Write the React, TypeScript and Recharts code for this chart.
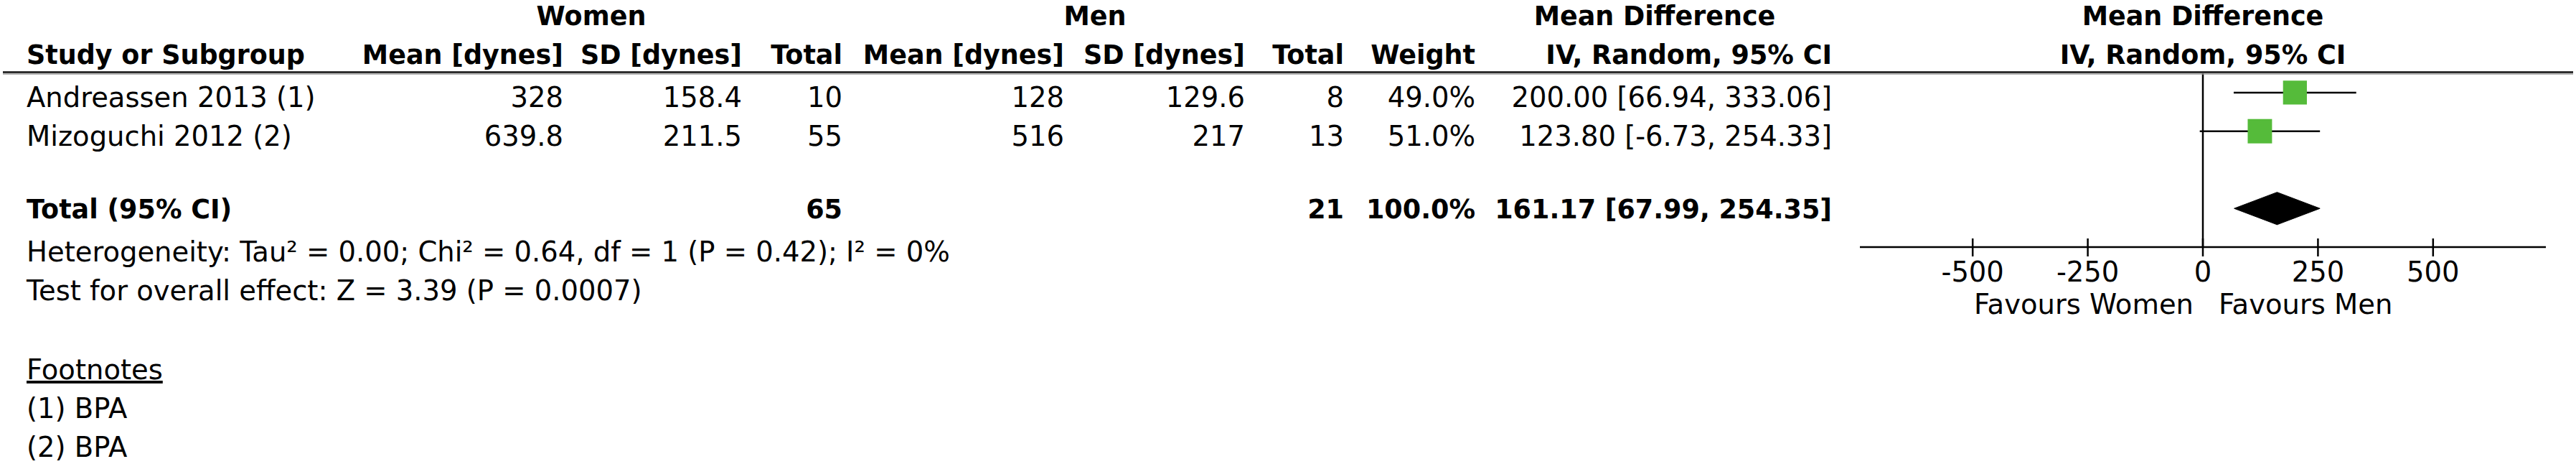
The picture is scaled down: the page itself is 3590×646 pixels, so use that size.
import React from "react";
import { Area, ComposedChart, ErrorBar, ReferenceLine, Scatter, XAxis, YAxis } from "recharts";

const studies = ["Andreassen 2013 (1)", "Mizoguchi 2012 (2)"];
const womenMean = [328, 639.8];
const womenSD = [158.4, 211.5];
const womenN = [10, 55];
const menMean = [128, 516];
const menSD = [129.6, 217];
const menN = [8, 13];
const weights = [49.0, 51.0];
const meanDiff = [200.0, 123.8];
const ciLow = [66.94, -6.73];
const ciHigh = [333.06, 254.33];

const totalWomen = 65;
const totalMen = 21;
const totalWeight = 100.0;
const pooledMD = 161.17;
const pooledLow = 67.99;
const pooledHigh = 254.35;

const axisTicks = [-500, -250, 0, 250, 500];
const studyRows = [1, 2];
const totalRow = 4;

const heterogeneity = "Heterogeneity: Tau\u00b2 = 0.00; Chi\u00b2 = 0.64, df = 1 (P = 0.42); I\u00b2 = 0%";
const overallEffect = "Test for overall effect: Z = 3.39 (P = 0.0007)";
const footnotes = ["(1) BPA", "(2) BPA"];

const W = 3590;
const H = 646;
const FONT = "DejaVu Sans";
const FS = 38.5;
const FSB = 36.5;
const GREEN = "#55bb3a";
const DIAMOND_HALF = 0.42; // in row units

const points = studies.map((name, i) => ({
  name,
  x: meanDiff[i],
  y: studyRows[i],
  weight: weights[i],
  err: [meanDiff[i] - ciLow[i], ciHigh[i] - meanDiff[i]],
}));

const diamond = [
  { x: pooledLow, band: [totalRow, totalRow] },
  { x: pooledMD, band: [totalRow - DIAMOND_HALF, totalRow + DIAMOND_HALF] },
  { x: pooledHigh, band: [totalRow, totalRow] },
];

const Square = (props: any) => {
  const { cx, cy, payload } = props;
  const side = 4.75 * Math.sqrt(payload.weight);
  return <rect x={cx - side / 2} y={cy - side / 2} width={side} height={side} fill={GREEN} />;
};

const AxisTick = (props: any) => {
  const { x, y, payload } = props;
  return (
    <g>
      <line x1={x} x2={x} y1={y - 12} y2={y + 13} stroke="#000" strokeWidth={2.5} />
      <text x={x} y={y + 48} textAnchor="middle" fontFamily={FONT} fontSize={FS} fill="#000">
        {payload.value}
      </text>
    </g>
  );
};

// right edges of the table columns
const colEnds = [785, 1034, 1174, 1483, 1735, 1873, 2056, 2553];
const rowBase = [149, 203];

const T = (p: any) => (
  <text fontFamily={FONT} fontSize={p.bold ? FSB : FS} fontWeight={p.bold ? "bold" : "normal"} fill="#000" {...p} bold={undefined}>
    {p.children}
  </text>
);

const App = () => {
  const headers2 = ["Mean [dynes]", "SD [dynes]", "Total", "Mean [dynes]", "SD [dynes]", "Total", "Weight", "IV, Random, 95% CI"];
  return (
    <div style={{ position: "absolute", left: 0, top: 0, width: W, height: H, background: "#fff" }}>
      <ComposedChart width={W} height={H} margin={{ top: 102, right: 42, bottom: 242, left: 2592 }}>
        <XAxis
          type="number"
          dataKey="x"
          domain={[-745, 745]}
          ticks={axisTicks}
          allowDataOverflow
          interval={0}
          height={60}
          tickSize={0}
          tickMargin={0}
          tickLine={false}
          axisLine={{ stroke: "#000", strokeWidth: 2.5 }}
          tick={(p: any) => <AxisTick {...p} />}
        />
        <YAxis type="number" dataKey="y" domain={[0.5, 5]} reversed hide />
        <ReferenceLine x={0} stroke="#000" strokeWidth={2.5} />
        <Area data={diamond} dataKey="band" type="linear" fill="#000" fillOpacity={1} stroke="#000" strokeWidth={1} isAnimationActive={false} />
        <Scatter data={points} shape={(p: any) => <Square {...p} />} isAnimationActive={false}>
          <ErrorBar dataKey="err" direction="x" width={0} stroke="#000" strokeWidth={2.5} />
        </Scatter>
      </ComposedChart>
      <svg width={W} height={H} style={{ position: "absolute", left: 0, top: 0, pointerEvents: "none" }}>
        <T bold x={824} y={35} textAnchor="middle">Women</T>
        <T bold x={1526} y={35} textAnchor="middle">Men</T>
        <T bold x={2306} y={35} textAnchor="middle">Mean Difference</T>
        <T bold x={3070} y={35} textAnchor="middle">Mean Difference</T>
        <T bold x={37} y={89}>Study or Subgroup</T>
        {headers2.map((h, i) => (
          <T key={i} bold x={colEnds[i]} y={89} textAnchor="end">{h}</T>
        ))}
        <T bold x={3070} y={89} textAnchor="middle">IV, Random, 95% CI</T>
        <line x1={4} x2={3586} y1={100.5} y2={100.5} stroke="#111" strokeWidth={2.5} />
        <line x1={4} x2={3586} y1={103} y2={103} stroke="#999" strokeWidth={1.5} />

        {studies.map((s, i) => {
          const cells = [
            String(womenMean[i]),
            String(womenSD[i]),
            String(womenN[i]),
            String(menMean[i]),
            String(menSD[i]),
            String(menN[i]),
            weights[i].toFixed(1) + "%",
            `${meanDiff[i].toFixed(2)} [${ciLow[i].toFixed(2)}, ${ciHigh[i].toFixed(2)}]`,
          ];
          return (
            <g key={s}>
              <T x={37} y={rowBase[i]}>{s}</T>
              {cells.map((c, j) => (
                <T key={j} x={colEnds[j]} y={rowBase[i]} textAnchor="end">{c}</T>
              ))}
            </g>
          );
        })}

        <T bold x={37} y={304}>Total (95% CI)</T>
        <T bold x={colEnds[2]} y={304} textAnchor="end">{String(totalWomen)}</T>
        <T bold x={colEnds[5]} y={304} textAnchor="end">{String(totalMen)}</T>
        <T bold x={colEnds[6]} y={304} textAnchor="end">{totalWeight.toFixed(1) + "%"}</T>
        <T bold x={colEnds[7]} y={304} textAnchor="end">
          {`${pooledMD.toFixed(2)} [${pooledLow.toFixed(2)}, ${pooledHigh.toFixed(2)}]`}
        </T>

        <T x={37} y={364}>{heterogeneity}</T>
        <T x={37} y={418}>{overallEffect}</T>

        <T x={3057} y={437} textAnchor="end">Favours Women</T>
        <T x={3092} y={437}>Favours Men</T>

        <T x={37} y={528} style={{ textDecoration: "underline" }}>Footnotes</T>
        {footnotes.map((f, i) => (
          <T key={f + i} x={37} y={582 + i * 54}>{f}</T>
        ))}
      </svg>
    </div>
  );
};

export default App;
